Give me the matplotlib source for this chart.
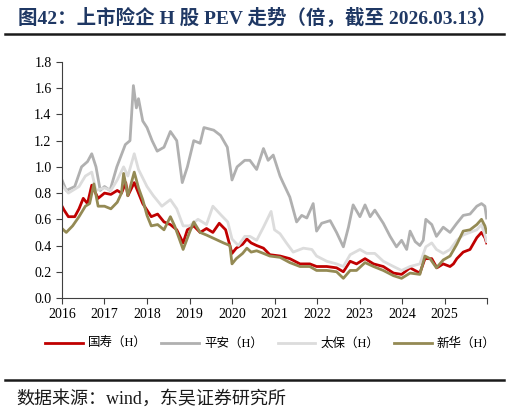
import matplotlib
matplotlib.use("Agg")
import matplotlib.pyplot as plt
from matplotlib.lines import Line2D

plt.rcParams['font.family'] = ['Liberation Serif', 'Noto Sans CJK SC']

# values (fractional year, PEV multiple)
gs_x = [2016.0, 2016.05, 2016.15, 2016.3, 2016.4, 2016.5, 2016.6, 2016.7, 2016.85, 2017.0,
        2017.15, 2017.3, 2017.4, 2017.5, 2017.55, 2017.7, 2017.8, 2017.9, 2018.0, 2018.1,
        2018.25, 2018.4, 2018.55, 2018.7, 2018.85, 2018.95, 2019.1, 2019.25, 2019.4, 2019.55,
        2019.7, 2019.85, 2020.0, 2020.1, 2020.25, 2020.35, 2020.45, 2020.58, 2020.74, 2020.89,
        2021.13, 2021.36, 2021.6, 2021.83, 2021.99, 2022.23, 2022.46, 2022.62, 2022.78, 2022.93,
        2023.13, 2023.33, 2023.56, 2023.8, 2023.99, 2024.19, 2024.42, 2024.54, 2024.7, 2024.82,
        2024.97, 2025.13, 2025.21, 2025.29, 2025.44, 2025.6, 2025.76, 2025.87, 2025.95, 2025.99]
gs = [0.70, 0.67, 0.62, 0.62, 0.68, 0.76, 0.72, 0.86, 0.76, 0.80,
      0.79, 0.82, 0.80, 0.88, 0.78, 0.88, 0.80, 0.72, 0.67, 0.62,
      0.64, 0.58, 0.56, 0.52, 0.42, 0.52, 0.55, 0.50, 0.53, 0.50,
      0.57, 0.52, 0.34, 0.38, 0.41, 0.45, 0.42, 0.40, 0.38, 0.33,
      0.32, 0.30, 0.26, 0.26, 0.24, 0.24, 0.23, 0.20, 0.28, 0.26,
      0.30, 0.26, 0.24, 0.19, 0.18, 0.23, 0.19, 0.30, 0.30, 0.23,
      0.26, 0.24, 0.26, 0.30, 0.35, 0.37, 0.46, 0.50, 0.46, 0.42]

pa_x = [2016.0, 2016.1, 2016.3, 2016.46, 2016.6, 2016.7, 2016.8, 2016.9, 2017.0, 2017.13,
        2017.29, 2017.49, 2017.6, 2017.68, 2017.75, 2017.8, 2017.9, 2018.0, 2018.12, 2018.24,
        2018.4, 2018.55, 2018.7, 2018.83, 2018.95, 2019.1, 2019.25, 2019.34, 2019.57, 2019.73,
        2019.89, 2020.0, 2020.12, 2020.3, 2020.42, 2020.58, 2020.74, 2020.85, 2020.97, 2021.13,
        2021.2, 2021.36, 2021.52, 2021.64, 2021.76, 2021.91, 2021.99, 2022.11, 2022.31, 2022.46,
        2022.62, 2022.74, 2022.85, 2023.01, 2023.13, 2023.25, 2023.36, 2023.56, 2023.72, 2023.87,
        2023.99, 2024.11, 2024.19, 2024.31, 2024.42, 2024.5, 2024.56, 2024.7, 2024.81, 2024.97,
        2025.13, 2025.29, 2025.44, 2025.6, 2025.76, 2025.87, 2025.95, 2025.99]
pa = [0.90, 0.82, 0.85, 1.00, 1.04, 1.10, 1.00, 0.82, 0.85, 0.82,
      1.00, 1.17, 1.20, 1.62, 1.45, 1.52, 1.35, 1.30, 1.20, 1.12,
      1.15, 1.27, 1.20, 0.88, 1.00, 1.20, 1.18, 1.30, 1.28, 1.24,
      1.15, 0.90, 1.00, 1.05, 1.05, 0.98, 1.14, 1.05, 1.09, 0.93,
      0.88, 0.77, 0.58, 0.63, 0.61, 0.72, 0.51, 0.57, 0.59, 0.50,
      0.39, 0.54, 0.71, 0.62, 0.71, 0.62, 0.67, 0.57, 0.47, 0.39,
      0.44, 0.37, 0.51, 0.43, 0.40, 0.44, 0.60, 0.56, 0.47, 0.54,
      0.50, 0.57, 0.63, 0.64, 0.70, 0.72, 0.70, 0.61]

tb_x = [2016.0, 2016.15, 2016.4, 2016.55, 2016.7, 2016.8, 2017.0, 2017.15, 2017.3, 2017.45,
        2017.55, 2017.7, 2017.8, 2018.0, 2018.15, 2018.35, 2018.55, 2018.7, 2018.85, 2019.0,
        2019.2, 2019.4, 2019.55, 2019.75, 2019.9, 2020.0, 2020.15, 2020.3, 2020.42, 2020.58,
        2020.74, 2020.92, 2021.0, 2021.13, 2021.28, 2021.44, 2021.68, 2021.88, 2021.99, 2022.23,
        2022.46, 2022.62, 2022.78, 2023.01, 2023.17, 2023.36, 2023.56, 2023.8, 2023.99, 2024.19,
        2024.42, 2024.56, 2024.7, 2024.81, 2024.97, 2025.13, 2025.29, 2025.44, 2025.6, 2025.76,
        2025.87, 2025.95, 2025.99]
tb = [0.86, 0.80, 0.85, 0.93, 0.96, 0.82, 0.84, 0.82, 0.90, 1.00,
      0.93, 1.10, 0.98, 0.85, 0.78, 0.70, 0.75, 0.68, 0.55, 0.55,
      0.60, 0.56, 0.70, 0.63, 0.58, 0.45, 0.40, 0.47, 0.47, 0.44,
      0.54, 0.66, 0.52, 0.49, 0.42, 0.35, 0.38, 0.37, 0.32, 0.28,
      0.26, 0.24, 0.33, 0.37, 0.34, 0.34, 0.28, 0.24, 0.21, 0.24,
      0.26, 0.39, 0.42, 0.37, 0.34, 0.37, 0.44, 0.48, 0.50, 0.52,
      0.56, 0.48, 0.43]

xh_x = [2016.0, 2016.1, 2016.25, 2016.4, 2016.55, 2016.65, 2016.75, 2016.85, 2017.0, 2017.15,
        2017.3, 2017.4, 2017.45, 2017.55, 2017.7, 2017.8, 2017.9, 2018.0, 2018.1, 2018.25,
        2018.4, 2018.55, 2018.65, 2018.85, 2019.0, 2019.1, 2019.25, 2019.4, 2019.6, 2019.8,
        2019.95, 2020.0, 2020.1, 2020.25, 2020.35, 2020.45, 2020.58, 2020.74, 2020.89, 2021.13,
        2021.36, 2021.6, 2021.83, 2021.99, 2022.23, 2022.46, 2022.62, 2022.78, 2022.93, 2023.13,
        2023.33, 2023.56, 2023.8, 2023.99, 2024.19, 2024.42, 2024.54, 2024.66, 2024.81, 2024.97,
        2025.13, 2025.29, 2025.44, 2025.6, 2025.76, 2025.87, 2025.95, 2025.99]
xh = [0.53, 0.50, 0.55, 0.62, 0.70, 0.72, 0.87, 0.70, 0.70, 0.68,
      0.73, 0.80, 0.95, 0.78, 0.96, 0.84, 0.75, 0.63, 0.55, 0.56,
      0.52, 0.62, 0.55, 0.37, 0.50, 0.58, 0.50, 0.48, 0.45, 0.42,
      0.40, 0.26, 0.30, 0.34, 0.38, 0.35, 0.36, 0.34, 0.32, 0.31,
      0.27, 0.24, 0.24, 0.21, 0.21, 0.20, 0.15, 0.21, 0.21, 0.27,
      0.24, 0.21, 0.17, 0.15, 0.19, 0.18, 0.32, 0.30, 0.23, 0.29,
      0.32, 0.41, 0.51, 0.52, 0.56, 0.60, 0.55, 0.50]

names = ['国寿（H）', '平安（H）', '太保（H）', '新华（H）']
colors = ['#C00000', '#B0B0B0', '#DCDCDC', '#948A54']
years = list(range(2016, 2026))

fig = plt.figure(figsize=(5.09, 4.13), dpi=100)
ax = fig.add_axes([0.1218, 0.2785, 0.835, 0.5714])

for xs, ys, name, c in zip([gs_x, pa_x, tb_x, xh_x], [gs, pa, tb, xh], names, colors):
    ax.plot(xs, ys, color=c, lw=2, label=name)

ax.set_xlim(2016, 2026)
ax.set_ylim(0, 1.8)
ax.set_xticks(list(range(2016, 2027)))
ax.set_xticklabels([str(y) for y in years] + [''])
ax.set_yticks([i * 0.2 for i in range(10)])
ax.set_yticklabels(['%.1f' % (i * 0.2) for i in range(10)])
ax.tick_params(labelsize=10, length=4, width=0.8, color='#404040', direction='out')
for s in ['top', 'right']:
    ax.spines[s].set_visible(False)
for s in ['left', 'bottom']:
    ax.spines[s].set_color('#404040')

leg = ax.legend(loc='upper center', bbox_to_anchor=(0.49, -0.12), ncol=4, frameon=False,
                fontsize=9, handlelength=3.0, columnspacing=1.2, handletextpad=0.4)

fig.text(0.035, 0.943, '图42：上市险企 H 股 PEV 走势（倍，截至 2026.03.13）',
         fontsize=14, fontweight='bold', color='#1F3864')
fig.add_artist(Line2D([0.01, 0.99], [0.917, 0.917], color='#1a1a1a', lw=1.8))
fig.add_artist(Line2D([0.01, 0.99], [0.080, 0.080], color='#1a1a1a', lw=1.8))
fig.text(0.033, 0.022, '数据来源：wind，东吴证券研究所', fontsize=13, color='#1a1a1a')

fig.savefig('out.png', dpi=100)
